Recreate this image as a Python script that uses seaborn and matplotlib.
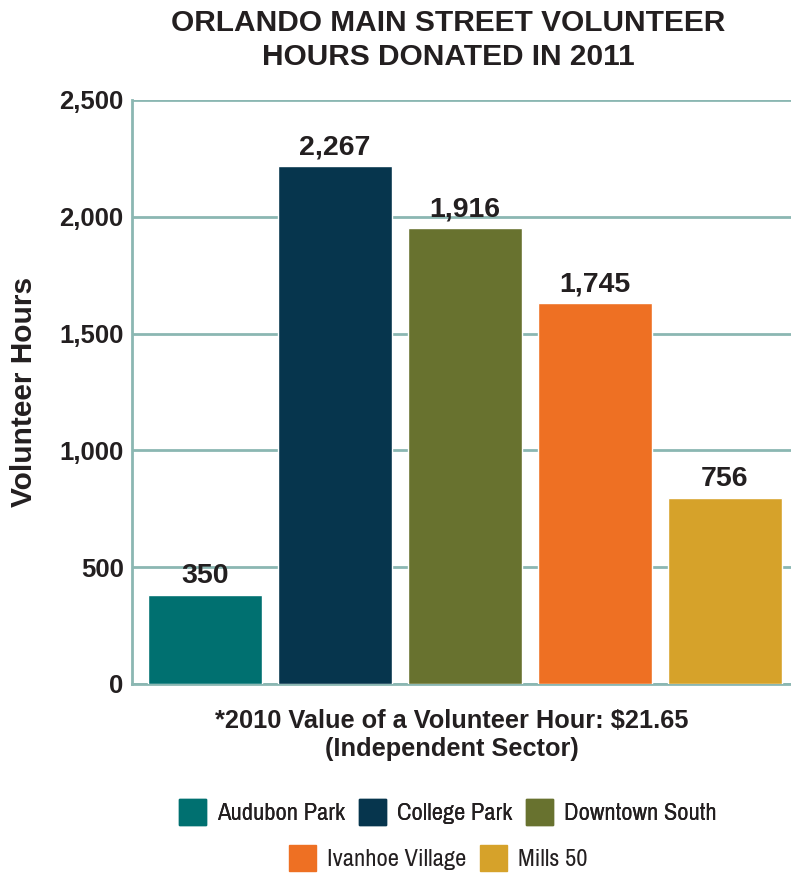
import numpy as np
import pandas as pd
import seaborn as sns
import matplotlib.pyplot as plt
import matplotlib.patches as mpatches
from matplotlib import font_manager as fm
from matplotlib.ticker import FuncFormatter

# data
areas = ['Audubon Park', 'College Park', 'Downtown South', 'Ivanhoe Village', 'Mills 50']
bar_heights = [381, 2217, 1952, 1631, 796]     # where the bars are drawn
value_labels = ['350', '2,267', '1,916', '1,745', '756']  # printed values
colors = ['#007070', '#06354d', '#68722f', '#ee7023', '#d6a22a']
y_ticks = [0, 500, 1000, 1500, 2000, 2500]

txt_col = '#231f20'
grid_col = '#8bb7b2'

sns.set_style('white')
plt.rcParams['font.family'] = ['Liberation Sans', 'DejaVu Sans']
plt.rcParams['text.color'] = txt_col


def find_narrow():
    # regular-weight narrow / condensed face, if one is installed
    cands = []
    for f in fm.fontManager.ttflist:
        if f.weight not in (400, 'normal', 'regular', 'book') or f.style != 'normal':
            continue
        if 'Narrow' in f.name:
            cands.append((0, f))
        elif 'Condensed' in f.name or f.stretch in ('condensed', 'semi-condensed',
                                                     'extra-condensed', 'ultra-condensed'):
            cands.append((1, f))
    cands.sort(key=lambda c: c[0])
    return cands[0][1] if cands else None


df = pd.DataFrame({'area': areas, 'hours': bar_heights})

fig = plt.figure(figsize=(7.91, 8.73), dpi=100)
ax = fig.add_axes([0.1669, 0.2165, 0.8331, 0.669])

sns.barplot(data=df, x='area', y='hours', hue='area', palette=colors,
            width=0.877, legend=False, saturation=1, ax=ax, zorder=3)

for cont, lab in zip(ax.containers, value_labels):
    ax.bar_label(cont, labels=[lab], padding=4, fontsize=20.5,
                 fontweight='bold', color=txt_col)

ax.set_xlim(-0.56, 4.51)
ax.set_ylim(0, 2500)
ax.set_yticks(y_ticks)
ax.yaxis.set_major_formatter(FuncFormatter(lambda v, p: '{:,.0f}'.format(v)))
ax.set_xticks([])
ax.set_xlabel('')
ax.tick_params(axis='y', length=0, pad=6, labelsize=18.5, labelcolor=txt_col)
for t in ax.get_yticklabels():
    t.set_fontweight('bold')

ax.grid(axis='y', color=grid_col, linewidth=2, zorder=0)
ax.set_axisbelow(True)
for s in ['top', 'right']:
    ax.spines[s].set_visible(False)
for s in ['left', 'bottom']:
    ax.spines[s].set_color(grid_col)
    ax.spines[s].set_linewidth(2)
    ax.spines[s].set_zorder(1)

ax.set_ylabel('Volunteer Hours', fontsize=21.5, fontweight='bold', color=txt_col)
ax.yaxis.set_label_coords(-0.142, 0.5)

fig.text(448 / 791, 1 - 40 / 873, 'ORLANDO MAIN STREET VOLUNTEER\nHOURS DONATED IN 2011',
         ha='center', va='center', fontsize=21.5, fontweight='bold',
         linespacing=1.28)
fig.text(452 / 791, 1 - 735 / 873,
         '*2010 Value of a Volunteer Hour: $21.65\n(Independent Sector)',
         ha='center', va='center', fontsize=18.3, fontweight='bold',
         linespacing=1.26)

# legend font: size it so "Audubon Park" is ~128 px wide as in the reference
narrow = find_narrow()
if narrow is not None:
    leg_font = fm.FontProperties(fname=narrow.fname, size=15)
else:
    leg_font = fm.FontProperties(family=['Liberation Sans', 'DejaVu Sans'], size=15)
renderer = fig.canvas.get_renderer()
probe = fig.text(0, 0, 'Audubon Park', fontproperties=leg_font)
w = probe.get_window_extent(renderer).width
probe.remove()
leg_size = min(15 * 128 / w, 22)
leg_font.set_size(leg_size)
fs_px = leg_size * 100 / 72

patches = [mpatches.Patch(color=c, label=a) for a, c in zip(areas, colors)]
kw = dict(loc='center', frameon=False, prop=leg_font,
          handlelength=27 / fs_px, handleheight=30 / fs_px,
          handletextpad=11 / fs_px, columnspacing=14 / fs_px, borderpad=0)
row1 = fig.legend(handles=patches[:3], ncol=3,
                  bbox_to_anchor=(448 / 791, 1 - 812 / 873), **kw)
row2 = fig.legend(handles=patches[3:], ncol=2,
                  bbox_to_anchor=(438 / 791, 1 - 858 / 873), **kw)
fig.add_artist(row1)

fig.savefig('out.png', dpi=100)
